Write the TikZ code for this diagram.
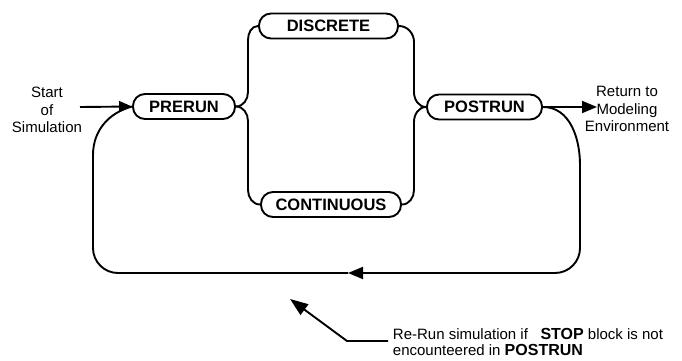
\documentclass[tikz,border=0pt]{standalone}
\usepackage{fontspec}
\setmainfont{Liberation Sans}
\usetikzlibrary{arrows.meta}
\newcommand{\keyword}[1]{{\fontsize{16}{16}\selectfont\bfseries #1}}
\begin{document}
\begin{tikzpicture}[x=1pt,y=-1pt,
  line width=1.9pt,
  phase/.style={draw, rounded corners=12pt, minimum height=25pt, inner sep=0pt,
    font=\fontsize{16.5}{18}\selectfont\bfseries},
  label/.style={font=\fontsize{15}{17.5}\selectfont, align=center, inner sep=0pt},
  tip/.style={-{Triangle[length=13pt,width=11pt]}},
  bigtip/.style={-{Triangle[length=15pt,width=12pt]}}
]
\useasboundingbox (0,0) rectangle (682,361);

% simulation phases
\node[phase, minimum width=102pt] (prerun) at (184,106.5) {PRERUN};
\node[phase, minimum width=139pt] (discrete) at (328.5,26) {DISCRETE};
\node[phase, minimum width=140pt] (continuous) at (331,204.5) {CONTINUOUS};
\node[phase, minimum width=115pt] (postrun) at (484.5,107) {POSTRUN};

% outside labels
\node[label] (start) at (47,110) {Start\\of\\Simulation};
\node[label] (return) at (627,109) {Return to\\Modeling\\Environment};
\node[label, align=left, anchor=west, font=\fontsize{15}{16}\selectfont] (note) at (392,342.3)
  {Re-Run simulation if \ \ \keyword{STOP} block is not\\encounteered in \keyword{POSTRUN}};

% left brace: PRERUN splits into both branches
\draw (prerun.east) to[out=0,in=-90] (248,92) -- (248,40) to[out=90,in=180] (discrete.west);
\draw (prerun.east) to[out=0,in=90] (248,121) -- (248,190) to[out=-90,in=180] (continuous.west);

% right brace: both branches join at POSTRUN
\draw (discrete.east) to[out=0,in=90] (414,42) -- (414,92) to[out=-90,in=180] (postrun.west);
\draw (continuous.east) to[out=0,in=-90] (414,190) -- (414,122) to[out=90,in=180] (postrun.west);

% entry and exit arrows
\coordinate (startend) at (80,107);
\draw[tip] (startend) -- (prerun.west);
\coordinate (returnend) at (597,107);
\draw[bigtip] (postrun.east) -- (returnend);

% re-run loop from POSTRUN back to PRERUN
\coordinate (loopmid) at (348,273);
\draw[bigtip] (postrun.east) to[out=0,in=90] (580,165) -- (580,248)
  to[out=-90,in=0] (555,273) -- (loopmid);
\draw (loopmid) -- (118,273) to[out=180,in=-90] (93,248) -- (93,155)
  to[out=90,in=195] (prerun.west);

% pointer from the note
\coordinate (noteend) at (388,341);
\coordinate (noteelbow) at (347,341);
\coordinate (notetip) at (290,299);
\draw[-{Triangle[length=18pt,width=13pt]}] (noteend) -- (noteelbow) -- (notetip);
\end{tikzpicture}
\end{document}
